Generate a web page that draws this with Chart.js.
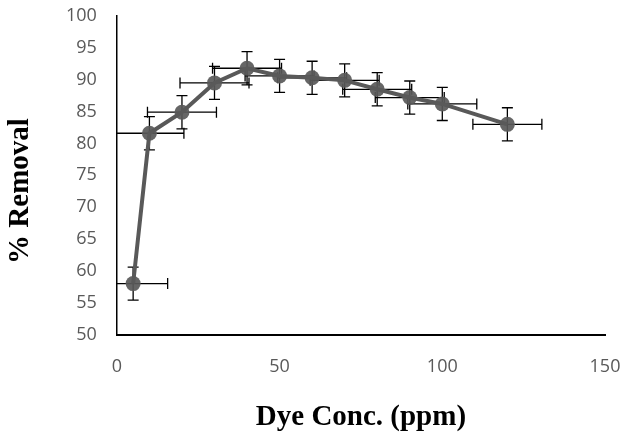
<!DOCTYPE html>
<html>
<head>
<meta charset="utf-8">
<script src="https://cdn.jsdelivr.net/npm/chart.js@4.4.0/dist/chart.umd.min.js"></script>
<style>
  html, body { margin: 0; padding: 0; background: #fff; }
  #wrap { width: 624px; height: 439px; }
</style>
</head>
<body>
<div id="wrap"><canvas id="chart"></canvas></div>
<script>
// dye concentration (ppm) vs % removal
const conc = [5, 10, 20, 30, 40, 50, 60, 70, 80, 90, 100, 120];
const removal = [58.0, 81.6, 84.9, 89.5, 91.8, 90.6, 90.3, 89.9, 88.5, 87.2, 86.2, 83.0];
const xErr = [10.6, 10.6, 10.6, 10.6, 10.6, 10.6, 10.6, 10.6, 10.6, 10.6, 10.6, 10.6];
const yErr = [2.6, 2.6, 2.6, 2.6, 2.6, 2.6, 2.6, 2.6, 2.6, 2.6, 2.6, 2.6];
const xTicks = [0, 50, 100, 150];
const yTicks = [50, 55, 60, 65, 70, 75, 80, 85, 90, 95, 100];
const yTitle = "% Removal";

const grey = "#595959";

// excel style error bars, clipped to the plot area
const errorBars = {
  id: "errorBars",
  beforeDatasetsDraw(chart) {
    const { ctx, chartArea, scales } = chart;
    const xs = scales.x, ys = scales.y;
    const cap = 5.5;
    ctx.save();
    ctx.beginPath();
    ctx.rect(chartArea.left, chartArea.top - 10, chartArea.right - chartArea.left + 20, chartArea.bottom - chartArea.top + 10);
    ctx.clip();
    ctx.strokeStyle = "#000";
    ctx.lineWidth = 1.3;
    conc.forEach((c, i) => {
      const px = xs.getPixelForValue(c);
      const py = ys.getPixelForValue(removal[i]);
      const x0 = xs.getPixelForValue(c - xErr[i]);
      const x1 = xs.getPixelForValue(c + xErr[i]);
      const y0 = ys.getPixelForValue(removal[i] + yErr[i]);
      const y1 = ys.getPixelForValue(removal[i] - yErr[i]);
      ctx.beginPath();
      ctx.moveTo(x0, py); ctx.lineTo(x1, py);
      ctx.moveTo(x0, py - cap); ctx.lineTo(x0, py + cap);
      ctx.moveTo(x1, py - cap); ctx.lineTo(x1, py + cap);
      ctx.moveTo(px, y0); ctx.lineTo(px, y1);
      ctx.moveTo(px - cap, y0); ctx.lineTo(px + cap, y0);
      ctx.moveTo(px - cap, y1); ctx.lineTo(px + cap, y1);
      ctx.stroke();
    });
    ctx.restore();
  }
};

// y title sits a bit below the plot centre in the original
const sideTitle = {
  id: "sideTitle",
  afterDraw(chart) {
    const { ctx } = chart;
    ctx.save();
    ctx.translate(21, 191);
    ctx.rotate(-Math.PI / 2);
    ctx.font = "bold 29px 'Liberation Serif'";
    ctx.fillStyle = "#000";
    ctx.textAlign = "center";
    ctx.textBaseline = "middle";
    ctx.fillText(yTitle, 0, 0);
    ctx.restore();
  }
};

new Chart(document.getElementById("chart"), {
  type: "scatter",
  data: {
    datasets: [{
      data: conc.map((c, i) => ({ x: c, y: removal[i] })),
      showLine: true,
      borderColor: grey,
      borderWidth: 4,
      backgroundColor: "rgba(89,89,89,0.92)",
      pointBorderWidth: 0,
      pointRadius: 7.5,
      pointHoverRadius: 7.5
    }]
  },
  options: {
    responsive: true,
    maintainAspectRatio: false,
    animation: false,
    layout: { padding: { left: 46, right: 19, top: 16, bottom: 4 } },
    plugins: {
      legend: { display: false },
      tooltip: { enabled: false }
    },
    scales: {
      x: {
        type: "linear",
        min: 0,
        max: 150,
        afterBuildTicks: (s) => { s.ticks = xTicks.map(v => ({ value: v })); },
        afterFit: (s) => { s.paddingRight = 0; s.paddingLeft = 0; },
        grid: { drawOnChartArea: false, drawTicks: false },
        border: { display: true, color: "#000", width: 2 },
        ticks: { color: grey, font: { family: "Open Sans", size: 18 }, padding: 21 },
        title: {
          display: true,
          text: "Dye Conc. (ppm)",
          color: "#000",
          font: { family: "Liberation Serif", size: 29, weight: "bold" },
          padding: { top: 2, bottom: 0 }
        }
      },
      y: {
        type: "linear",
        min: 50,
        max: 100,
        afterBuildTicks: (s) => { s.ticks = yTicks.map(v => ({ value: v })); },
        afterFit: (s) => { s.paddingTop = 0; },
        grid: { drawOnChartArea: false, drawTicks: false },
        border: { display: true, color: "#000", width: 1.5 },
        ticks: { color: grey, font: { family: "Open Sans", size: 18 }, padding: 20 }
      }
    }
  },
  plugins: [errorBars, sideTitle]
});
</script>
</body>
</html>
